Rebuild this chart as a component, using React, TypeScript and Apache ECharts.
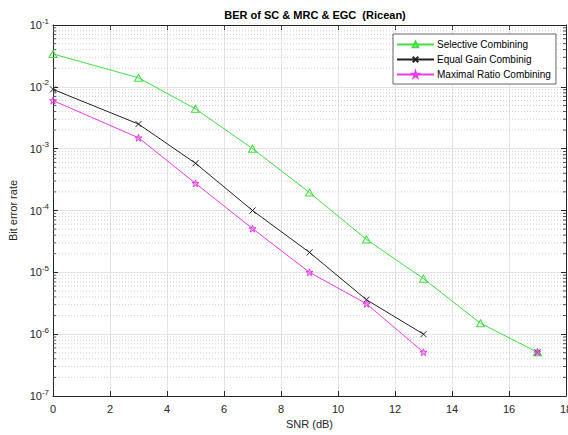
import React, { useEffect, useRef } from "react";
import * as echarts from "echarts";

const snr = [0, 3, 5, 7, 9, 11, 13, 15, 17];
const berSC = [3.4e-2, 1.4e-2, 4.4e-3, 1.0e-3, 1.95e-4, 3.4e-5, 7.9e-6, 1.5e-6, 5.1e-7];
const berEGC: (number | null)[] = [9.1e-3, 2.5e-3, 5.8e-4, 1.0e-4, 2.1e-5, 3.6e-6, 1.0e-6, null, 5.1e-7];
const berMRC: (number | null)[] = [6.0e-3, 1.5e-3, 2.75e-4, 5.1e-5, 1.0e-5, 3.1e-6, 5.1e-7, null, 5.1e-7];
const seriesNames = ["Selective Combining", "Equal Gain Combinig", "Maximal Ratio Combining"];
const minorMultipliers = [2, 3, 4, 5, 6, 7, 8, 9];
const decades = [-7, -6, -5, -4, -3, -2];

const FONT = "'Liberation Sans', Arial, Helvetica, sans-serif";
const AX = "#262626";
const X_MIN = 0;
const X_MAX = 18;

const trianglePath = "path://M50,0 L100,86.6 L0,86.6 Z";
const starPath =
  "path://M50,0 L61.8,36.2 L100,36.2 L69.1,58.8 L80.9,95.1 L50,72.4 L19.1,95.1 L30.9,58.8 L0,36.2 L38.2,36.2 Z";
const crossPath = "path://M0,0 L10,10 M10,0 L0,10";

function pairs(vals: (number | null)[]) {
  return snr.map((x, i) => [x, vals[i] == null ? "-" : vals[i]]);
}

export default function App() {
  const ref = useRef<HTMLDivElement>(null);
  useEffect(() => {
    if (!ref.current) return;
    const chart = echarts.init(ref.current, null, { renderer: "svg" });
    const minorVals: number[][] = [];
    decades.forEach((d) =>
      minorMultipliers.forEach((m) => minorVals.push([X_MIN, m * Math.pow(10, d)]))
    );
    const labelFmt = (v: number) => "{b|10}{s|" + Math.round(Math.log10(v)) + "}";
    const option: any = {
      animation: false,
      backgroundColor: "#ffffff",
      textStyle: { fontFamily: FONT },
      title: {
        text: "BER of SC & MRC & EGC  (Ricean)",
        left: 310,
        top: 4,
        textAlign: "center",
        textStyle: { fontFamily: FONT, fontSize: 11, fontWeight: "bold", color: "#000" },
      },
      legend: {
        orient: "vertical",
        left: 393,
        top: 34,
        padding: [5, 5, 4, 3],
        itemGap: 4,
        itemWidth: 37,
        itemHeight: 7,
        backgroundColor: "#fff",
        borderColor: AX,
        borderWidth: 0.7,
        borderRadius: 0,
        textStyle: { fontFamily: FONT, fontSize: 10, lineHeight: 11, color: "#000", padding: [0, 0, 0, -2] },
        data: seriesNames,
      },
      grid: { left: 53, right: 2, top: 25, bottom: 39, outerBoundsMode: "none", containLabel: false },
      xAxis: [
        {
          type: "value",
          min: X_MIN,
          max: X_MAX,
          interval: 2,
          name: "SNR (dB)",
          nameLocation: "middle",
          nameGap: 22,
          nameTextStyle: { fontFamily: FONT, fontSize: 11, color: AX },
          axisLine: { show: true, onZero: false, lineStyle: { color: AX, width: 1 } },
          axisTick: { show: true, inside: true, length: 5, lineStyle: { color: AX } },
          axisLabel: { fontFamily: FONT, fontSize: 11, color: AX, margin: 7 },
          splitLine: { show: true, lineStyle: { color: "#e3e3e3", width: 1 } },
        },
        {
          type: "value",
          position: "top",
          min: X_MIN,
          max: X_MAX,
          interval: 2,
          axisLine: { show: true, onZero: false, lineStyle: { color: AX, width: 1 } },
          axisTick: { show: true, inside: true, length: 5, lineStyle: { color: AX } },
          axisLabel: { show: false },
          splitLine: { show: false },
        },
      ],
      yAxis: [
        {
          type: "log",
          logBase: 10,
          min: 1e-7,
          max: 1e-1,
          name: "Bit error rate",
          nameLocation: "middle",
          nameGap: 32,
          nameTextStyle: { fontFamily: FONT, fontSize: 11, color: AX },
          axisLine: { show: true, onZero: false, lineStyle: { color: AX, width: 1 } },
          axisTick: { show: true, inside: true, length: 5, lineStyle: { color: AX } },
          axisLabel: {
            formatter: labelFmt,
            margin: 4,
            rich: {
              b: { fontFamily: FONT, fontSize: 11, color: AX },
              s: { fontFamily: FONT, fontSize: 8, color: AX, padding: [0, 0, 8, 0] },
            },
          },
          splitLine: { show: true, lineStyle: { color: "#e3e3e3", width: 1 } },
        },
        {
          type: "log",
          logBase: 10,
          position: "right",
          min: 1e-7,
          max: 1e-1,
          axisLine: { show: true, onZero: false, lineStyle: { color: AX, width: 1 } },
          axisTick: { show: true, inside: true, length: 5, lineStyle: { color: AX } },
          axisLabel: { show: false },
          splitLine: { show: false },
        },
      ],
      series: [
        {
          type: "custom",
          name: "minorGrid",
          silent: true,
          z: 1,
          xAxisIndex: 0,
          yAxisIndex: 0,
          data: minorVals,
          renderItem: (params: any, api: any) => {
            const y = api.value(1);
            const p0 = api.coord([X_MIN, y]);
            const p1 = api.coord([X_MAX, y]);
            return {
              type: "group",
              children: [
                {
                  type: "line",
                  shape: { x1: p0[0], y1: p0[1], x2: p1[0], y2: p1[1] },
                  style: { stroke: "#c4c4c4", lineWidth: 0.8, lineDash: [1, 2] },
                },
                {
                  type: "line",
                  shape: { x1: p0[0], y1: p0[1], x2: p0[0] + 3, y2: p0[1] },
                  style: { stroke: AX, lineWidth: 0.8 },
                },
                {
                  type: "line",
                  shape: { x1: p1[0], y1: p1[1], x2: p1[0] - 3, y2: p1[1] },
                  style: { stroke: AX, lineWidth: 0.8 },
                },
              ],
            };
          },
        },
        {
          type: "line",
          name: seriesNames[0],
          data: pairs(berSC),
          z: 3,
          symbol: trianglePath,
          symbolSize: [8, 7],
          lineStyle: { color: "#3fe03f", width: 1 },
          itemStyle: { color: "rgba(255,255,255,0)", borderColor: "#3fe03f", borderWidth: 1 },
        },
        {
          type: "line",
          name: seriesNames[1],
          data: pairs(berEGC),
          z: 4,
          connectNulls: false,
          symbol: crossPath,
          symbolSize: 6,
          lineStyle: { color: "#222", width: 1 },
          itemStyle: { color: "#222", borderColor: "#222", borderWidth: 1 },
        },
        {
          type: "line",
          name: seriesNames[2],
          data: pairs(berMRC),
          z: 5,
          connectNulls: false,
          symbol: starPath,
          symbolSize: 7,
          lineStyle: { color: "#e83be8", width: 1 },
          itemStyle: { color: "rgba(232,59,232,0.3)", borderColor: "#e83be8", borderWidth: 1 },
        },
      ],
    };
    chart.setOption(option);
    return () => chart.dispose();
  }, []);
  return (
    <div
      ref={ref}
      style={{ position: "fixed", left: 0, top: 0, width: 568, height: 435 }}
    />
  );
}
